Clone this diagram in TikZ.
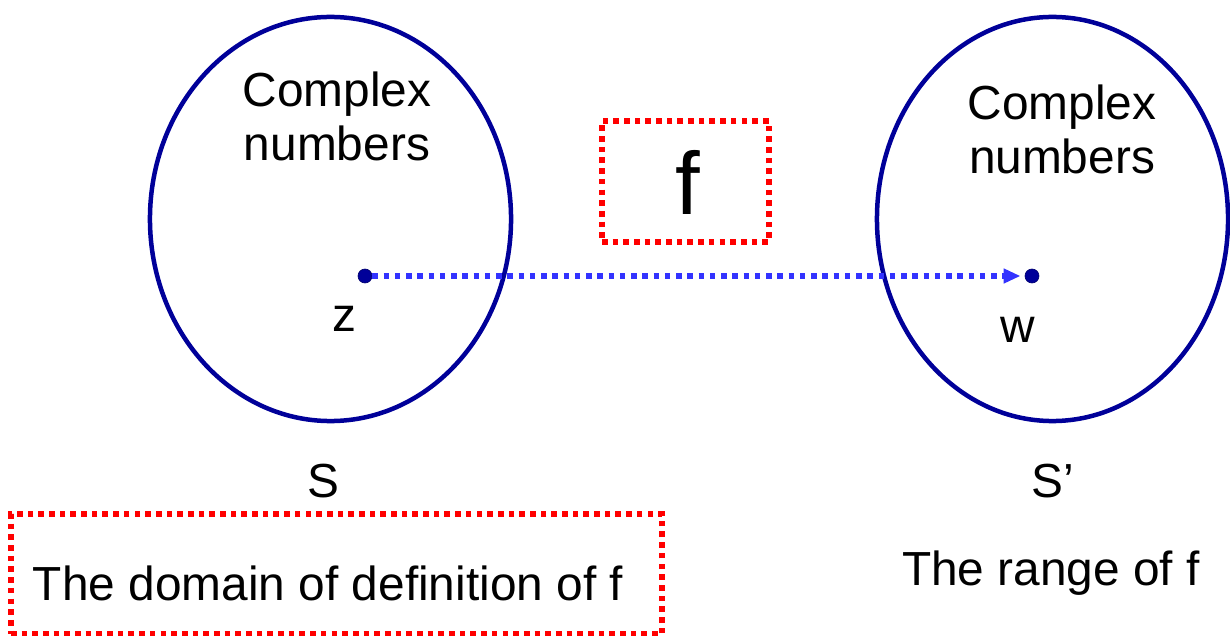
\documentclass[tikz,border=0pt]{standalone}
\usepackage{fontspec}
\setmainfont{Liberation Sans}
\usepackage{tikz}
\usetikzlibrary{arrows.meta,positioning,shapes.geometric}
\definecolor{setblue}{RGB}{0,0,153}
\definecolor{mapblue}{RGB}{51,51,255}
\definecolor{boxred}{RGB}{255,0,0}
\tikzset{
  setoval/.style={ellipse,draw=setblue,line width=3.2pt,inner sep=0pt},
  point/.style={circle,fill=setblue,draw=setblue!70!black,inner sep=0pt,
    minimum size=10pt},
  lbl/.style={inner sep=0pt,anchor=base,align=center,
    font=\fontsize{34}{39}\selectfont},
  dotbox/.style={draw=boxred,line width=4pt,dash pattern=on 4pt off 3.6pt,
    inner sep=0pt},
  mapsto/.style={-{Triangle[length=12pt,width=10pt]},draw=mapblue,
    line width=4pt,dash pattern=on 4pt off 4pt,shorten >=3pt}
}
\begin{document}
\begin{tikzpicture}[x=0.025cm,y=-0.025cm]
\useasboundingbox (0,0) rectangle (1230,636);
% the two sets
\node[setoval,minimum width=9.025cm,minimum height=10.1cm] (dom) at (330.5,219) {};
\node[setoval,minimum width=8.775cm,minimum height=10.1cm] (ran) at (1052.5,219) {};
\node[lbl] (domname) at (337,161) {Complex\\numbers};
\node[lbl] (ranname) at (1062,174) {Complex\\numbers};
% the map
\node[dotbox,minimum width=4.175cm,minimum height=3.025cm] (fbox) at (685.5,181.5) {};
\node[lbl,font=\fontsize{63}{70}\selectfont] (fname) at (688,215) {f};
\node[point] (zpt) at (365,276) {};
\node[point] (wpt) at (1032,276) {};
\draw[mapsto] (zpt) -- (wpt);
\node[lbl] (zname) at (344,332) {z};
\node[lbl] (wname) at (1018,343) {w};
% captions
\node[lbl] (sname) at (323,497) {S};
\node[lbl] (sprime) at (1053,497) {S’};
\node[dotbox,minimum width=16.275cm,minimum height=3cm] (dombox) at (336.5,574) {};
\node[lbl] (domtext) at (328,600) {The domain of definition of f};
\node[lbl] (rantext) at (1051,585) {The range of f};
\end{tikzpicture}
\end{document}
